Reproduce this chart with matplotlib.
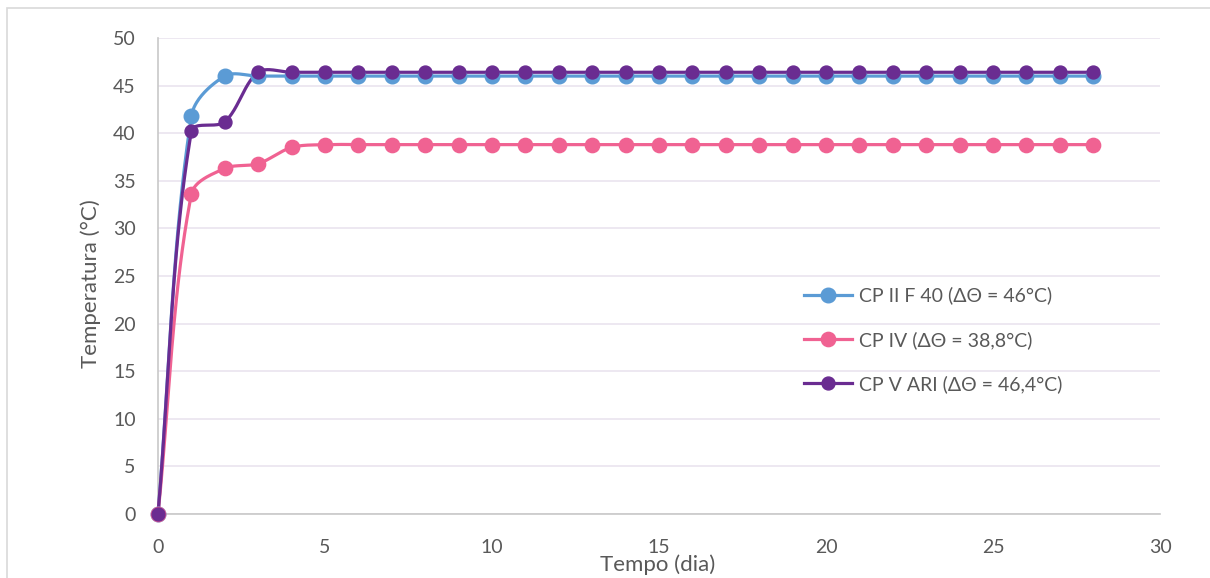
import numpy as np
import matplotlib
matplotlib.use("Agg")
import matplotlib.pyplot as plt
from matplotlib.patches import Rectangle

# Data: temperature (°C) per day of curing
dias = list(range(0, 29))
cp_ii_f40 = [0, 41.8, 46.0] + [46.0] * 26
cp_iv = [0, 33.6, 36.3, 36.8, 38.5] + [38.8] * 24
cp_v_ari = [0, 40.2, 41.2, 46.4] + [46.4] * 25

labels = ["CP II F 40 (ΔΘ = 46°C)", "CP IV (ΔΘ = 38,8°C)", "CP V ARI (ΔΘ = 46,4°C)"]
colors = ["#5B9BD5", "#F06292", "#6A2C91"]
xticks = [0, 5, 10, 15, 20, 25, 30]
yticks = [0, 5, 10, 15, 20, 25, 30, 35, 40, 45, 50]


def smooth(x, y, sx, sy, n=40):
    """Bezier smoothing with chord-length weighted control points,
    computed in screen units (sx, sy = pixels per data unit)."""
    P = np.column_stack([np.asarray(x, float) * sx, np.asarray(y, float) * sy])
    m = len(P)
    out = []
    t = np.linspace(0, 1, n)[:, None]
    for i in range(m - 1):
        p0, p3 = P[i], P[i + 1]
        prev = P[i - 1] if i > 0 else P[i]
        nxt = P[i + 2] if i + 2 < m else P[i + 1]
        d01 = np.hypot(*(p0 - prev))
        d12 = np.hypot(*(p3 - p0))
        d23 = np.hypot(*(nxt - p3))
        f1 = d12 / (d01 + d12) / 3 if d01 + d12 > 0 else 0
        f2 = d12 / (d12 + d23) / 3 if d12 + d23 > 0 else 0
        c1 = p0 + (p3 - prev) * f1
        c2 = p3 - (nxt - p0) * f2
        b = (1 - t) ** 3 * p0 + 3 * (1 - t) ** 2 * t * c1 + 3 * (1 - t) * t ** 2 * c2 + t ** 3 * p3
        out.append(b)
    b = np.vstack(out)
    return b[:, 0] / sx, b[:, 1] / sy


plt.rcParams["font.family"] = ["Lato", "DejaVu Sans"]
text_color = "#595959"

fig = plt.figure(figsize=(12.10, 5.78), dpi=100)
fig.patch.set_facecolor("white")
fig.patches.append(Rectangle((7 / 1210, -0.1), 1.2, 1 - 8 / 578 + 0.1,
                             transform=fig.transFigure, fill=False,
                             edgecolor="#D9D9D9", linewidth=1.2))

ax_l, ax_r, ax_t, ax_b = 158, 1160, 38, 514
ax = fig.add_axes([ax_l / 1210, 1 - ax_b / 578, (ax_r - ax_l) / 1210, (ax_b - ax_t) / 578])

px_x = (ax_r - ax_l) / 30.0
px_y = (ax_b - ax_t) / 50.0

series = [cp_ii_f40, cp_iv, cp_v_ari]
msizes = [10.5, 10.3, 9.3]
for ys, lab, col, ms in zip(series, labels, colors, msizes):
    cx, cy = smooth(dias, ys, px_x, px_y)
    ax.plot(cx, cy, color=col, linewidth=2.3, zorder=3, solid_capstyle="round",
            clip_on=False)
    ax.plot(dias, ys, linestyle="none", marker="o", markersize=ms,
            color=col, zorder=4, clip_on=False)
    ax.plot([], [], color=col, linewidth=2.3, marker="o", markersize=ms, label=lab)

ax.set_xlim(0, 30)
ax.set_ylim(0, 50)
ax.set_xticks(xticks)
ax.set_yticks(yticks)
ax.grid(axis="y", color="#E8E2EE", linewidth=1.1)
ax.set_axisbelow(True)
for s in ["top", "right"]:
    ax.spines[s].set_visible(False)
ax.spines["left"].set_color("#C8C8C8")
ax.spines["bottom"].set_color("#C8C8C8")
ax.spines["left"].set_linewidth(1.2)
ax.spines["bottom"].set_linewidth(1.2)
ax.tick_params(length=0, labelsize=14, labelcolor=text_color)
ax.tick_params(axis="y", pad=16)
ax.tick_params(axis="x", pad=18)

fig.text(658 / 1210, 1 - 565 / 578, "Tempo (dia)", ha="center", va="center",
         fontsize=16, color=text_color)
fig.text(91 / 1210, 1 - 284 / 578, "Temperatura (°C)", ha="center", va="center",
         rotation=90, fontsize=16, color=text_color)

leg = ax.legend(loc="upper left", bbox_to_anchor=(786 / 1210, 1 - 269 / 578),
                bbox_transform=fig.transFigure, frameon=False, fontsize=14,
                handlelength=2.5, labelspacing=1.36, handletextpad=0.35)
for t in leg.get_texts():
    t.set_color(text_color)

fig.savefig("out.png", dpi=100, facecolor="white")
